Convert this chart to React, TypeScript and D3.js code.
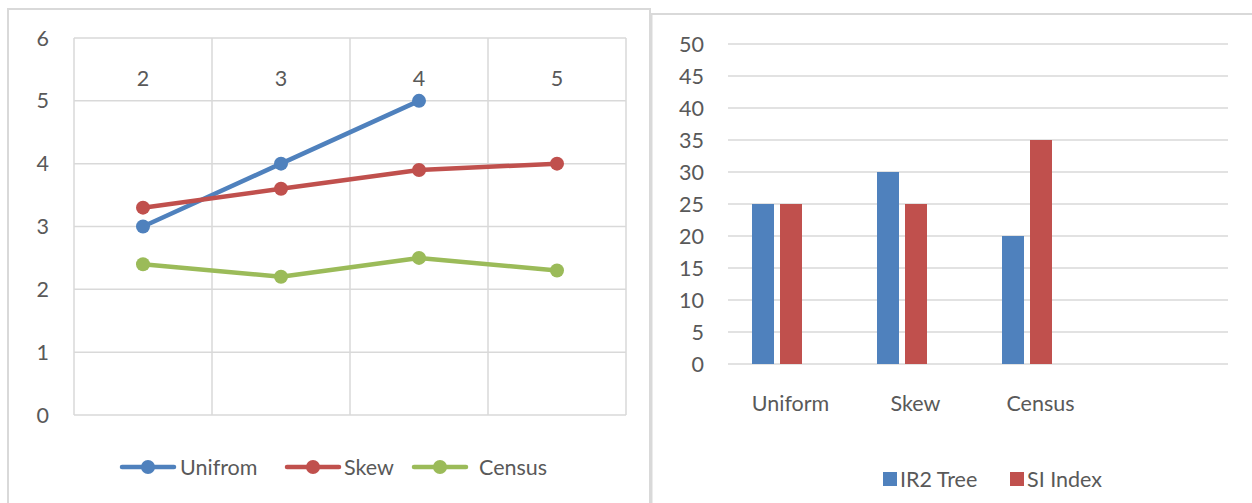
import React from "react";
import * as d3 from "d3";

const lineCategories = ["2", "3", "4", "5"];
const unifromValues: (number | null)[] = [3, 4, 5, null];
const skewValues: (number | null)[] = [3.3, 3.6, 3.9, 4.0];
const censusValues: (number | null)[] = [2.4, 2.2, 2.5, 2.3];
const lineYTicks = [0, 1, 2, 3, 4, 5, 6];

const barCategories = ["Uniform", "Skew", "Census", ""];
const ir2TreeValues = [25, 30, 20];
const siIndexValues = [25, 25, 35];
const barYTicks = [0, 5, 10, 15, 20, 25, 30, 35, 40, 45, 50];

const BLUE = "#4F81BD";
const RED = "#C0504D";
const GREEN = "#9BBB59";
const GRID = "#d9d9d9";
const TEXT = "#595959";
const FONT = "Lato, 'Open Sans', sans-serif";
const FS = 21.5;

export default function App() {
  // Left line chart
  const lx = d3.scaleBand().domain(lineCategories).range([74, 626]);
  const ly = d3.scaleLinear().domain([0, 6]).range([415, 38]);
  const lineSeries = [
    { name: "Unifrom", values: unifromValues, color: BLUE },
    { name: "Skew", values: skewValues, color: RED },
    { name: "Census", values: censusValues, color: GREEN },
  ];
  const lineGen = d3
    .line<{ c: string; v: number | null }>()
    .defined((d) => d.v !== null)
    .x((d) => (lx(d.c) as number) + lx.bandwidth() / 2)
    .y((d) => ly(d.v as number));
  const legendLeft = [
    { x: 122, textX: 180 },
    { x: 287, textX: 344 },
    { x: 414, textX: 479 },
  ];

  // Right bar chart
  const bx = d3.scaleBand().domain(barCategories).range([728, 1228]);
  const by = d3.scaleLinear().domain([0, 50]).range([364, 44]);
  const barW = 22;
  const barGap = 6;
  const barOffset = 24;

  return (
    <svg
      width={1252}
      height={503}
      style={{ position: "absolute", left: 0, top: 0, background: "#fff" }}
      fontFamily={FONT}
    >
      <rect x={0} y={0} width={1252} height={503} fill="#fff" />
      {/* frames */}
      <rect x={8} y={9} width={642} height={510} fill="none" stroke={GRID} strokeWidth={2} />
      <rect x={651.5} y={14} width={620} height={510} fill="none" stroke={GRID} strokeWidth={2} />

      {/* LEFT CHART */}
      <g>
        {lineYTicks.map((t) => (
          <line key={"h" + t} x1={74} x2={626} y1={ly(t)} y2={ly(t)} stroke={GRID} strokeWidth={1.5} />
        ))}
        {[...lineCategories.map((c) => lx(c) as number), 626].map((x, i) => (
          <line key={"v" + i} x1={x} x2={x} y1={38} y2={415} stroke={GRID} strokeWidth={1.5} />
        ))}
        {lineYTicks.map((t) => (
          <text key={"yt" + t} x={49} y={ly(t)} dy="0.35em" textAnchor="end" fontSize={FS} fill={TEXT}>
            {t}
          </text>
        ))}
        {lineCategories.map((c) => (
          <text
            key={"xc" + c}
            x={(lx(c) as number) + lx.bandwidth() / 2}
            y={78}
            dy="0.35em"
            textAnchor="middle"
            fontSize={FS}
            fill={TEXT}
          >
            {c}
          </text>
        ))}
        {lineSeries.map((s) => {
          const pts = lineCategories.map((c, i) => ({ c, v: s.values[i] }));
          return (
            <g key={s.name}>
              <path d={lineGen(pts) || ""} fill="none" stroke={s.color} strokeWidth={4.5} strokeLinejoin="round" strokeLinecap="round" />
              {pts
                .filter((p) => p.v !== null)
                .map((p) => (
                  <circle
                    key={p.c}
                    cx={(lx(p.c) as number) + lx.bandwidth() / 2}
                    cy={ly(p.v as number)}
                    r={7}
                    fill={s.color}
                  />
                ))}
            </g>
          );
        })}
        {lineSeries.map((s, i) => (
          <g key={"lg" + s.name}>
            <line x1={legendLeft[i].x} x2={legendLeft[i].x + 52} y1={467} y2={467} stroke={s.color} strokeWidth={4.5} strokeLinecap="round" />
            <circle cx={legendLeft[i].x + 26} cy={467} r={7} fill={s.color} />
            <text x={legendLeft[i].textX} y={467} dy="0.35em" fontSize={FS} fill={TEXT}>
              {s.name}
            </text>
          </g>
        ))}
      </g>

      {/* RIGHT CHART */}
      <g>
        {barYTicks.map((t) => (
          <line key={"bh" + t} x1={728} x2={1228} y1={by(t)} y2={by(t)} stroke={GRID} strokeWidth={1.5} />
        ))}
        {barYTicks.map((t) => (
          <text key={"byt" + t} x={704} y={by(t)} dy="0.35em" textAnchor="end" fontSize={FS} fill={TEXT}>
            {t}
          </text>
        ))}
        {ir2TreeValues.map((v, i) => (
          <rect
            key={"b1" + i}
            x={(bx(barCategories[i]) as number) + barOffset}
            y={by(v)}
            width={barW}
            height={by(0) - by(v)}
            fill={BLUE}
          />
        ))}
        {siIndexValues.map((v, i) => (
          <rect
            key={"b2" + i}
            x={(bx(barCategories[i]) as number) + barOffset + barW + barGap}
            y={by(v)}
            width={barW}
            height={by(0) - by(v)}
            fill={RED}
          />
        ))}
        {barCategories.map((c) => (
          <text
            key={"bc" + c}
            x={(bx(c) as number) + bx.bandwidth() / 2}
            y={403}
            dy="0.35em"
            textAnchor="middle"
            fontSize={FS}
            fill={TEXT}
          >
            {c}
          </text>
        ))}
        <rect x={883} y={472} width={14} height={14} fill={BLUE} />
        <text x={900} y={479} dy="0.35em" fontSize={FS} fill={TEXT}>IR2 Tree</text>
        <rect x={1010} y={472} width={14} height={14} fill={RED} />
        <text x={1027} y={479} dy="0.35em" fontSize={FS} fill={TEXT}>SI Index</text>
      </g>
    </svg>
  );
}
